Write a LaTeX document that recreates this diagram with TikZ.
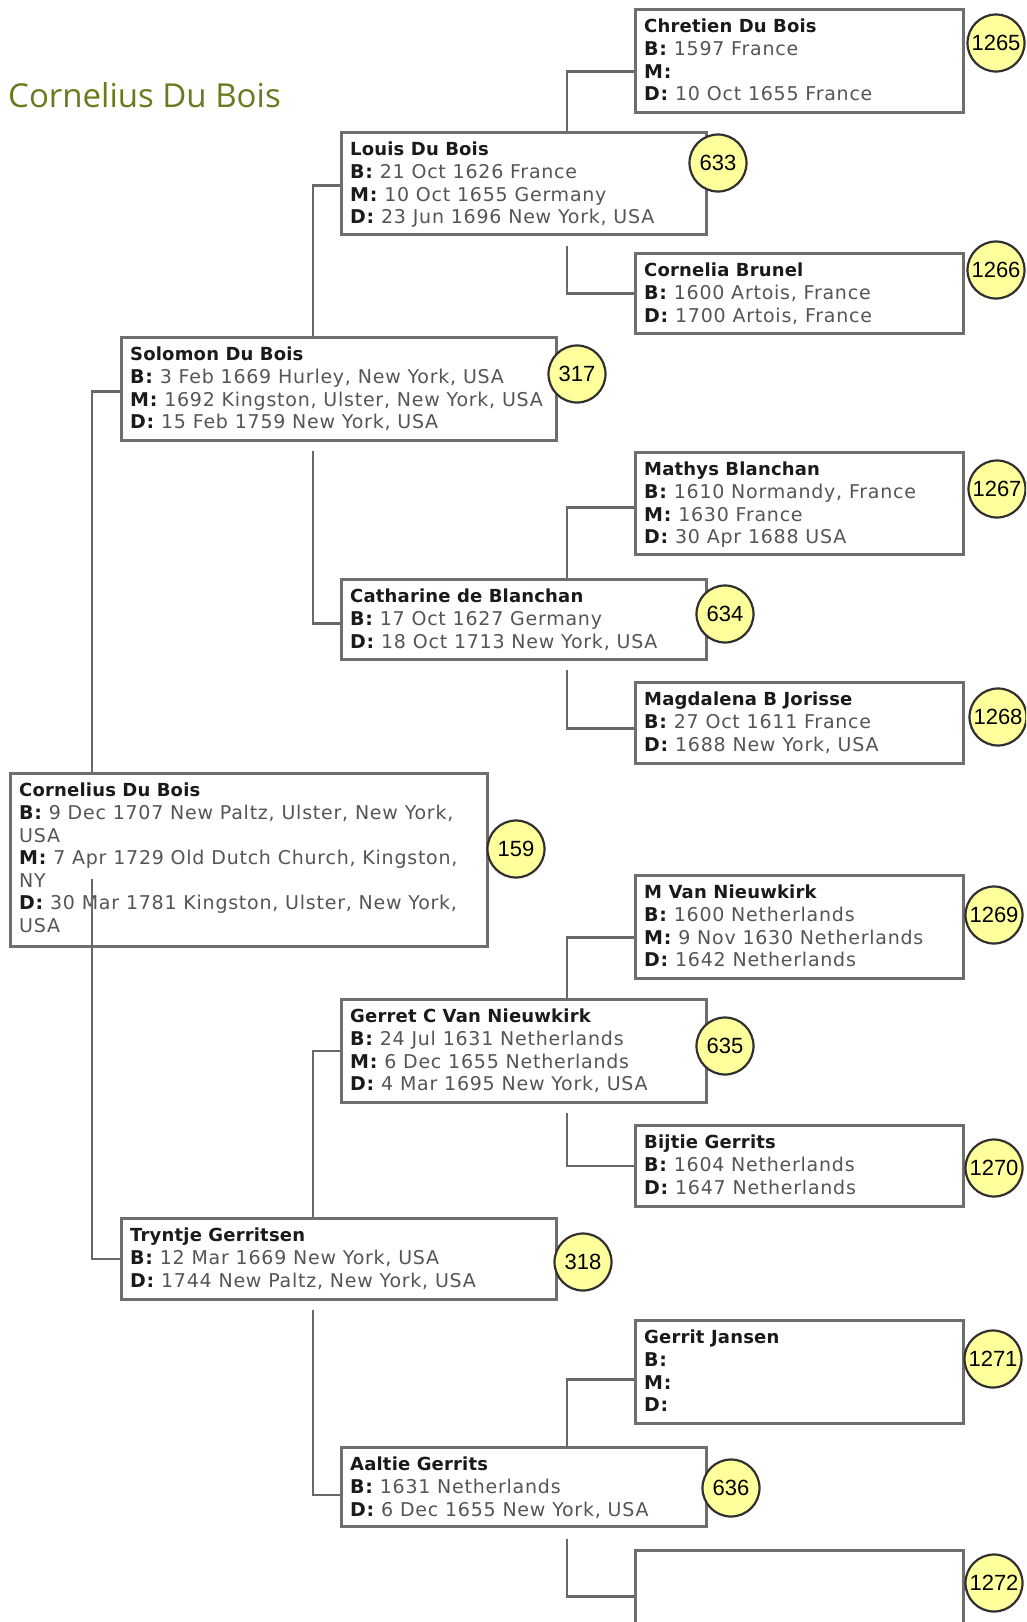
\documentclass[tikz,border=0pt]{standalone}
\usepackage{fontspec}
\usetikzlibrary{calc}
\newfontfamily\boxfont{DejaVu Sans}[LetterSpace=4]
\newfontfamily\nmfont{DejaVu Sans}[LetterSpace=1]
\newfontfamily\numfont{Liberation Sans}
\newfontfamily\titlefont{Open Sans}
\definecolor{boxcol}{HTML}{6E6E6E}
\definecolor{linecol}{HTML}{686868}
\definecolor{numfill}{HTML}{FFFF9C}
\definecolor{numdraw}{HTML}{303030}
\definecolor{titlecol}{HTML}{6B7A1E}
\definecolor{valcol}{HTML}{555555}
\definecolor{labcol}{HTML}{1A1A1A}
\newcommand\pnm[1]{{\nmfont\bfseries\fontsize{18}{22.5}\selectfont\color{labcol}#1}}
\newcommand\plb[1]{{\bfseries\color{labcol}#1}}
\tikzset{
  pbox/.style={draw=boxcol, line width=2.5pt, fill=white, rectangle, inner sep=0pt, anchor=north west},
  ptext/.style={anchor=north west, align=left, inner sep=0pt, text=valcol, font=\boxfont\fontsize{19}{22.6}\selectfont},
  conn/.style={draw=linecol, line width=2.5pt},
  num/.style={circle, draw=numdraw, line width=2.2pt, fill=numfill, minimum size=57pt, inner sep=0pt, font=\numfont\fontsize{22}{22}\selectfont},
}
\begin{document}
\begin{tikzpicture}[x=1pt,y=-1pt]
\useasboundingbox (0,0) rectangle (1026,1622);
\clip (0,0) rectangle (1026,1622);
% vertical connector lanes
\coordinate (g1) at (92,0);
\coordinate (g2) at (313,0);
\coordinate (g3) at (567,0);
% title
\node[anchor=base west, inner sep=0pt, text=titlecol, font=\titlefont\fontsize{33}{33}\selectfont] (title) at (8,107) {Cornelius Du Bois};
% boxes
\node[pbox, minimum width=328pt, minimum height=103pt] (chretien) at (634,8) {};
\node[pbox, minimum width=365pt, minimum height=102pt] (louis) at (340,131) {};
\node[pbox, minimum width=328pt, minimum height=80pt] (cornelia) at (634,252) {};
\node[pbox, minimum width=435pt, minimum height=103pt] (solomon) at (120,336) {};
\node[pbox, minimum width=328pt, minimum height=102pt] (mathys) at (634,451) {};
\node[pbox, minimum width=365pt, minimum height=80pt] (catharine) at (340,578) {};
\node[pbox, minimum width=328pt, minimum height=81pt] (magdalena) at (634,681) {};
\node[pbox, minimum width=477pt, minimum height=173pt] (cornelius) at (9,772) {};
\node[pbox, minimum width=328pt, minimum height=103pt] (mvan) at (634,874) {};
\node[pbox, minimum width=365pt, minimum height=103pt] (gerret) at (340,998) {};
\node[pbox, minimum width=328pt, minimum height=81pt] (bijtie) at (634,1124) {};
\node[pbox, minimum width=435pt, minimum height=81pt] (tryntje) at (120,1217) {};
\node[pbox, minimum width=328pt, minimum height=103pt] (gerrit) at (634,1319) {};
\node[pbox, minimum width=365pt, minimum height=79pt] (aaltie) at (340,1446) {};
\node[pbox, minimum width=328pt, minimum height=92pt] (unknown) at (634,1549) {};
% texts
\node[ptext] (chretien-t) at ([xshift=10pt,yshift=-11pt]chretien.north west) {\pnm{Chretien Du Bois}\\\plb{B:} 1597 France\\\plb{M:}\\\plb{D:} 10 Oct 1655 France};
\node[ptext] (louis-t) at ([xshift=10pt,yshift=-11pt]louis.north west) {\pnm{Louis Du Bois}\\\plb{B:} 21 Oct 1626 France\\\plb{M:} 10 Oct 1655 Germany\\\plb{D:} 23 Jun 1696 New York, USA};
\node[ptext] (cornelia-t) at ([xshift=10pt,yshift=-11pt]cornelia.north west) {\pnm{Cornelia Brunel}\\\plb{B:} 1600 Artois, France\\\plb{D:} 1700 Artois, France};
\node[ptext] (solomon-t) at ([xshift=10pt,yshift=-11pt]solomon.north west) {\pnm{Solomon Du Bois}\\\plb{B:} 3 Feb 1669 Hurley, New York, USA\\\plb{M:} 1692 Kingston, Ulster, New York, USA\\\plb{D:} 15 Feb 1759 New York, USA};
\node[ptext] (mathys-t) at ([xshift=10pt,yshift=-11pt]mathys.north west) {\pnm{Mathys Blanchan}\\\plb{B:} 1610 Normandy, France\\\plb{M:} 1630 France\\\plb{D:} 30 Apr 1688 USA};
\node[ptext] (catharine-t) at ([xshift=10pt,yshift=-11pt]catharine.north west) {\pnm{Catharine de Blanchan}\\\plb{B:} 17 Oct 1627 Germany\\\plb{D:} 18 Oct 1713 New York, USA};
\node[ptext] (magdalena-t) at ([xshift=10pt,yshift=-11pt]magdalena.north west) {\pnm{Magdalena B Jorisse}\\\plb{B:} 27 Oct 1611 France\\\plb{D:} 1688 New York, USA};
\node[ptext] (cornelius-t) at ([xshift=10pt,yshift=-11pt]cornelius.north west) {\pnm{Cornelius Du Bois}\\\plb{B:} 9 Dec 1707 New Paltz, Ulster, New York,\\USA\\\plb{M:} 7 Apr 1729 Old Dutch Church, Kingston,\\NY\\\plb{D:} 30 Mar 1781 Kingston, Ulster, New York,\\USA};
\node[ptext] (mvan-t) at ([xshift=10pt,yshift=-11pt]mvan.north west) {\pnm{M Van Nieuwkirk}\\\plb{B:} 1600 Netherlands\\\plb{M:} 9 Nov 1630 Netherlands\\\plb{D:} 1642 Netherlands};
\node[ptext] (gerret-t) at ([xshift=10pt,yshift=-11pt]gerret.north west) {\pnm{Gerret C Van Nieuwkirk}\\\plb{B:} 24 Jul 1631 Netherlands\\\plb{M:} 6 Dec 1655 Netherlands\\\plb{D:} 4 Mar 1695 New York, USA};
\node[ptext] (bijtie-t) at ([xshift=10pt,yshift=-11pt]bijtie.north west) {\pnm{Bijtie Gerrits}\\\plb{B:} 1604 Netherlands\\\plb{D:} 1647 Netherlands};
\node[ptext] (tryntje-t) at ([xshift=10pt,yshift=-11pt]tryntje.north west) {\pnm{Tryntje Gerritsen}\\\plb{B:} 12 Mar 1669 New York, USA\\\plb{D:} 1744 New Paltz, New York, USA};
\node[ptext] (gerrit-t) at ([xshift=10pt,yshift=-11pt]gerrit.north west) {\pnm{Gerrit Jansen}\\\plb{B:}\\\plb{M:}\\\plb{D:}};
\node[ptext] (aaltie-t) at ([xshift=10pt,yshift=-11pt]aaltie.north west) {\pnm{Aaltie Gerrits}\\\plb{B:} 1631 Netherlands\\\plb{D:} 6 Dec 1655 New York, USA};
% connectors: generation 1 -> 2
\draw[conn] (cornelius.north -| g1) |- ([yshift=-2.5pt]solomon.west);
\draw[conn] ([yshift=-107pt]cornelius.north -| g1) |- (tryntje.west);
% generation 2 -> 3
\draw[conn] (solomon.north -| g2) |- ([yshift=-2pt]louis.west);
\draw[conn] ([yshift=-9pt]solomon.south -| g2) |- ([yshift=-4pt]catharine.west);
\draw[conn] (tryntje.north -| g2) |- (gerret.west);
\draw[conn] ([yshift=-9pt]tryntje.south -| g2) |- ([yshift=-8pt]aaltie.west);
% generation 3 -> 4
\draw[conn] (louis.north -| g3) |- ([yshift=-10.5pt]chretien.west);
\draw[conn] ([yshift=-10pt]louis.south -| g3) |- (cornelia.west);
\draw[conn] (catharine.north -| g3) |- ([yshift=-4pt]mathys.west);
\draw[conn] ([yshift=-9pt]catharine.south -| g3) |- ([yshift=-5.5pt]magdalena.west);
\draw[conn] (gerret.north -| g3) |- ([yshift=-10.5pt]mvan.west);
\draw[conn] ([yshift=-9pt]gerret.south -| g3) |- (bijtie.west);
\draw[conn] (aaltie.north -| g3) |- ([yshift=-7.5pt]gerrit.west);
\draw[conn] ([yshift=-11pt]aaltie.south -| g3) |- (unknown.west);
% numbers
\node[num] (n1265) at (996,43) {1265};
\node[num] (n633) at (718,163) {633};
\node[num] (n1266) at (996,270) {1266};
\node[num] (n317) at (577,374) {317};
\node[num] (n1267) at (997,489) {1267};
\node[num] (n634) at (725,614) {634};
\node[num] (n1268) at (998,717) {1268};
\node[num] (n159) at (516,849) {159};
\node[num] (n1269) at (994,915) {1269};
\node[num] (n635) at (725,1046) {635};
\node[num] (n1270) at (994,1168) {1270};
\node[num] (n318) at (583,1262) {318};
\node[num] (n1271) at (993,1359) {1271};
\node[num] (n636) at (731,1488) {636};
\node[num] (n1272) at (994,1583) {1272};
\end{tikzpicture}
\end{document}
